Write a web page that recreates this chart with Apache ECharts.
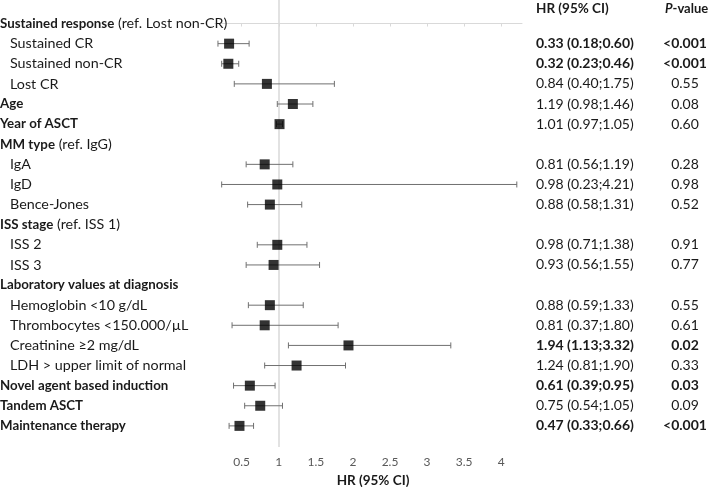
<!DOCTYPE html>
<html>
<head>
<meta charset="utf-8">
<script src="https://cdn.jsdelivr.net/npm/echarts@6/dist/echarts.min.js"></script>
<style>
html,body{margin:0;padding:0;background:#fff;}
#chart{width:709px;height:487px;}
</style>
</head>
<body>
<div id="chart"></div>
<script>
// Row labels (top to bottom)
const labels = ['Sustained response', 'Sustained CR', 'Sustained non-CR', 'Lost CR', 'Age', 'Year of ASCT',
  'MM type', 'IgA', 'IgD', 'Bence-Jones', 'ISS stage', 'ISS 2', 'ISS 3',
  'Laboratory values at diagnosis', 'Hemoglobin <10 g/dL', 'Thrombocytes <150.000/\u00b5L', 'Creatinine \u22652 mg/dL',
  'LDH > upper limit of normal', 'Novel agent based induction', 'Tandem ASCT', 'Maintenance therapy'];
const labelNotes = [' (ref. Lost non-CR)', '', '', '', '', '', ' (ref. IgG)', '', '', '', ' (ref. ISS 1)', '', '',
  '', '', '', '', '', '', '', ''];
const isHeader = [1,0,0,0,1,1,1,0,0,0,1,0,0,1,0,0,0,0,1,1,1];
// Hazard ratios and 95% CI
const hr = [null, 0.33, 0.32, 0.84, 1.19, 1.01, null, 0.81, 0.98, 0.88, null, 0.98, 0.93, null, 0.88, 0.81, 1.94, 1.24, 0.61, 0.75, 0.47];
const ciLow = [null, 0.18, 0.23, 0.40, 0.98, 0.97, null, 0.56, 0.23, 0.58, null, 0.71, 0.56, null, 0.59, 0.37, 1.13, 0.81, 0.39, 0.54, 0.33];
const ciHigh = [null, 0.60, 0.46, 1.75, 1.46, 1.05, null, 1.19, 4.21, 1.31, null, 1.38, 1.55, null, 1.33, 1.80, 3.32, 1.90, 0.95, 1.05, 0.66];
const pValues = ['', '<0.001', '<0.001', '0.55', '0.08', '0.60', '', '0.28', '0.98', '0.52', '', '0.91', '0.77', '',
  '0.55', '0.61', '0.02', '0.33', '0.03', '0.09', '<0.001'];
const significant = [0,1,1,0,0,0,0,0,0,0,0,0,0,0,0,0,1,0,1,0,1];
const xTicks = [0.5, 1, 1.5, 2, 2.5, 3, 3.5, 4];

const rowIdx = labels.map((_, i) => i);
const FONT = 'Lato';
const TXT = '#1a1a1a';

function hrText(i) {
  if (hr[i] == null) return '';
  return hr[i].toFixed(2) + ' (' + ciLow[i].toFixed(2) + ';' + ciHigh[i].toFixed(2) + ')';
}

const pointData = [], ciData = [];
rowIdx.forEach(i => {
  if (hr[i] != null) {
    pointData.push([hr[i], i]);
    ciData.push([ciLow[i], ciHigh[i], i]);
  }
});

const yBase = {
  type: 'value', inverse: true, min: -1.17, max: 21.05,
  axisLine: {show: false}, axisTick: {show: false}, splitLine: {show: false}
};

const chart = echarts.init(document.getElementById('chart'), null, {renderer: 'canvas'});
chart.setOption({
  animation: false,
  textStyle: {fontFamily: FONT},
  title: [
    {text: 'HR (95% CI)', left: 536, top: 2, padding: 0,
     textStyle: {fontFamily: FONT, fontSize: 13.5, fontWeight: 'bold', color: TXT}},
    {text: '{i|P}{b|-value}', left: 665, top: 2, padding: 0, textStyle: {rich: {
      i: {fontFamily: FONT, fontSize: 13, fontWeight: 'bold', fontStyle: 'italic', color: TXT},
      b: {fontFamily: FONT, fontSize: 13, fontWeight: 'bold', color: TXT}}}}
  ],
  grid: {left: 215, right: 187, top: 0, bottom: 40, outerBoundsMode: 'none', containLabel: false},
  xAxis: {
    type: 'value', min: 0.14, max: 4.28,
    axisLine: {lineStyle: {color: '#d9d9d9', width: 1}},
    axisTick: {show: true, length: 3, lineStyle: {color: '#d9d9d9'}, customValues: xTicks},
    axisLabel: {customValues: xTicks, color: '#595959', fontSize: 12, fontFamily: FONT, margin: 9},
    splitLine: {show: false},
    name: 'HR (95% CI)', nameLocation: 'middle', nameGap: 27,
    nameTextStyle: {fontFamily: FONT, fontSize: 13.5, fontWeight: 'bold', color: TXT, padding: [0, 0, 0, 9]}
  },
  yAxis: [
    Object.assign({}, yBase, {
      position: 'left',
      axisLabel: {
        customValues: rowIdx, align: 'left', margin: 215,
        formatter: v => {
          const i = Math.round(v);
          if (isHeader[i]) return '{b|' + labels[i] + '}' + (labelNotes[i] ? '{n|' + labelNotes[i] + '}' : '');
          return '{s|' + labels[i] + '}';
        },
        rich: {
          b: {fontFamily: FONT, fontSize: 13.3, fontWeight: 'bold', color: TXT},
          n: {fontFamily: FONT, fontSize: 14.3, color: TXT},
          s: {fontFamily: FONT, fontSize: 14.3, color: TXT, padding: [0, 0, 0, 10]}
        }
      }
    }),
    Object.assign({}, yBase, {
      position: 'right',
      axisLabel: {
        customValues: rowIdx, align: 'left', margin: 14,
        formatter: v => {
          const i = Math.round(v);
          const t = hrText(i);
          if (!t) return '';
          return significant[i] ? '{b|' + t + '}' : '{n|' + t + '}';
        },
        rich: {
          b: {fontFamily: FONT, fontSize: 14, fontWeight: 'bold', color: TXT},
          n: {fontFamily: FONT, fontSize: 14, color: TXT}
        }
      }
    }),
    Object.assign({}, yBase, {
      position: 'right',
      axisLabel: {
        customValues: rowIdx, align: 'center', margin: 163,
        formatter: v => {
          const i = Math.round(v);
          const t = pValues[i];
          if (!t) return '';
          return significant[i] ? '{b|' + t + '}' : '{n|' + t + '}';
        },
        rich: {
          b: {fontFamily: FONT, fontSize: 14, fontWeight: 'bold', color: TXT},
          n: {fontFamily: FONT, fontSize: 14, color: TXT}
        }
      }
    })
  ],
  series: [
    {
      type: 'custom',
      yAxisIndex: 0,
      data: ciData,
      renderItem: (params, api) => {
        const y = api.value(2);
        const p1 = api.coord([api.value(0), y]);
        const p2 = api.coord([api.value(1), y]);
        const cap = 3;
        const style = {stroke: '#707070', lineWidth: 1};
        return {type: 'group', children: [
          {type: 'line', shape: {x1: p1[0], y1: p1[1], x2: p2[0], y2: p2[1]}, style: style},
          {type: 'line', shape: {x1: p1[0], y1: p1[1] - cap, x2: p1[0], y2: p1[1] + cap}, style: style},
          {type: 'line', shape: {x1: p2[0], y1: p2[1] - cap, x2: p2[0], y2: p2[1] + cap}, style: style}
        ]};
      },
      z: 2,
      markLine: {
        silent: true, symbol: 'none', label: {show: false}, z: 1,
        lineStyle: {color: '#d9d9d9', width: 1.5, type: 'solid'},
        data: [{xAxis: 1}]
      }
    },
    {
      type: 'scatter',
      yAxisIndex: 0,
      data: pointData,
      symbol: 'rect',
      symbolSize: 10,
      itemStyle: {color: '#000000'},
      z: 3
    }
  ]
});
</script>
</body>
</html>
